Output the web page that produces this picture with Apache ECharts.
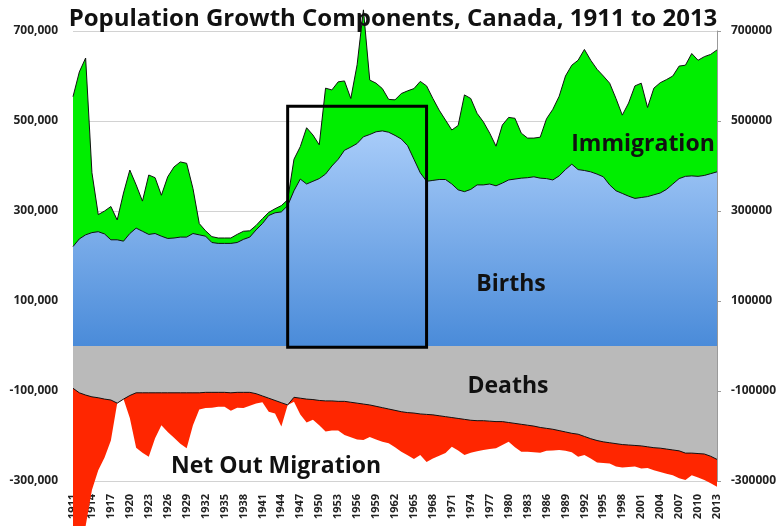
<!DOCTYPE html>
<html>
<head>
<meta charset="utf-8">
<title>Population Growth Components, Canada, 1911 to 2013</title>
<script src="https://cdn.jsdelivr.net/npm/echarts@6.0.0/dist/echarts.min.js"></script>
<style>
  html, body { margin: 0; padding: 0; background: #fff; }
  #chart { width: 779px; height: 526px; }
</style>
</head>
<body>
<div id="chart"></div>
<script>
// all values in thousands of persons
var years = [];
for (var y = 1911; y <= 2013; y++) years.push(String(y));

// top of the blue area
var births = [
  221, 238, 247, 252, 254, 249, 236, 236, 233, 250,
  262, 255, 248, 250, 244, 239, 240, 242, 242, 250,
  247, 244, 230, 228, 228, 228, 230, 237, 242, 258,
  272, 290, 296, 298, 312, 345, 371, 360, 366, 372,
  382, 400, 415, 435, 442, 450, 465, 470, 476, 478,
  475, 468, 460, 445, 415, 385, 366, 368, 370, 370,
  360, 347, 343, 348, 358, 358, 360, 356, 362, 369,
  371, 373, 374, 376, 373, 372, 369, 378, 392, 404,
  392, 390, 387, 382, 376, 358, 345, 339, 333, 328,
  330, 332, 336, 340, 348, 360, 372, 377, 378, 377,
  379, 383, 387
];
// top of the green area (births + immigration)
var birthsPlusImmigration = [
  554, 609, 640, 385, 292, 300, 310, 280, 340, 391,
  358, 322, 380, 374, 335, 376, 398, 409, 406, 350,
  272, 256, 243, 240, 240, 240, 248, 255, 256, 268,
  283, 297, 305, 312, 325, 415, 443, 485, 469, 447,
  573, 569, 587, 589, 550, 625, 747, 591, 584, 572,
  548, 547, 561, 567, 572, 588, 578, 550, 524, 502,
  480, 490, 558, 550, 517, 498, 473, 444, 491, 508,
  506, 473, 462, 462, 464, 505, 526, 555, 600, 624,
  635, 659, 635, 615, 600, 584, 550, 513, 540, 578,
  584, 530, 573, 585, 592, 600, 622, 624, 650, 635,
  643, 648, 658
];
// bottom of the grey area
var deaths = [
  -94, -104, -109, -113, -115, -118, -120, -127, -118, -110,
  -104, -104, -104, -104, -104, -104, -104, -104, -104, -104,
  -104, -103, -103, -103, -103, -104, -103, -103, -103, -106,
  -111, -116, -121, -126, -131, -114, -116, -118, -119, -121,
  -122, -122, -123, -123, -125, -127, -129, -131, -134, -137,
  -140, -143, -146, -148, -149, -151, -152, -153, -155, -157,
  -159, -161, -163, -165, -166, -166, -167, -168, -168, -170,
  -172, -174, -176, -178, -181, -183, -185, -188, -191, -194,
  -196, -201, -206, -210, -213, -215, -217, -219, -220, -221,
  -222, -224, -226, -227, -229, -231, -233, -238, -238, -239,
  -240, -245, -252
];
// bottom of the red area (deaths + net out migration)
var deathsPlusOutMigration = [
  -440, -420, -400, -320, -276, -248, -210, -127, -118, -160,
  -226, -237, -246, -205, -176, -191, -204, -217, -227, -176,
  -141, -138, -137, -135, -135, -144, -137, -138, -133, -128,
  -125, -146, -150, -179, -131, -124, -152, -170, -164, -176,
  -190, -188, -188, -198, -203, -208, -209, -202, -208, -213,
  -216, -225, -235, -243, -251, -242, -258, -250, -244, -238,
  -224, -232, -242, -237, -234, -231, -229, -227, -220, -213,
  -225, -235, -235, -236, -237, -233, -232, -231, -233, -236,
  -246, -242, -250, -259, -260, -261, -268, -270, -269, -268,
  -272, -271, -276, -280, -284, -287, -294, -298, -287, -292,
  -298, -305, -313
];

var labelTicks = [-300, -100, 100, 300, 500, 700];
var FONT = '"Open Sans", sans-serif';

var chart = echarts.init(document.getElementById('chart'));
chart.setOption({
  animation: false,
  backgroundColor: '#fff',
  grid: { left: 73, right: 62, top: 31, bottom: 45, containLabel: false, outerBoundsMode: 'none' },
  xAxis: {
    type: 'category',
    data: years,
    boundaryGap: false,
    axisLine: { show: false },
    axisTick: { show: false },
    axisLabel: {
      interval: 2,
      rotate: 90,
      margin: 13,
      fontFamily: FONT,
      fontSize: 11,
      fontWeight: 'bold',
      color: '#222'
    },
    splitLine: { show: false }
  },
  yAxis: [
    {
      type: 'value',
      position: 'left',
      min: -300,
      max: 700,
      interval: 100,
      axisLine: { show: false },
      axisTick: { show: false },
      axisLabel: {
        customValues: labelTicks,
        margin: 15,
        fontFamily: FONT,
        fontSize: 12,
        fontWeight: 'bold',
        color: '#222',
        formatter: function (v) { return (v * 1000).toLocaleString('en-US'); }
      },
      // grid lines only at the labelled values
      splitLine: { show: true, lineStyle: { color: ['#d2d2d2', 'rgba(0,0,0,0)'], width: 1 } }
    },
    {
      type: 'value',
      position: 'right',
      min: -300,
      max: 700,
      interval: 100,
      axisLine: { show: true, lineStyle: { color: '#9a9a9a' } },
      axisTick: { show: true, customValues: labelTicks, length: 4, lineStyle: { color: '#9a9a9a' } },
      axisLabel: {
        customValues: labelTicks,
        margin: 14,
        fontFamily: FONT,
        fontSize: 12,
        fontWeight: 'bold',
        color: '#222',
        formatter: function (v) { return String(v * 1000); }
      },
      splitLine: { show: false }
    }
  ],
  series: [
    {
      name: 'Immigration',
      type: 'line',
      data: birthsPlusImmigration,
      symbol: 'none',
      clip: false,
      lineStyle: { color: '#111', width: 1 },
      areaStyle: { color: '#00ee00', opacity: 1 }
    },
    {
      name: 'Births',
      type: 'line',
      data: births,
      symbol: 'none',
      clip: false,
      lineStyle: { color: '#111', width: 1 },
      areaStyle: {
        opacity: 1,
        color: new echarts.graphic.LinearGradient(0, 0, 0, 1, [
          { offset: 0, color: '#a8ccf9' },
          { offset: 1, color: '#4a8bd9' }
        ])
      }
    },
    {
      name: 'Net Out Migration',
      type: 'line',
      data: deathsPlusOutMigration,
      symbol: 'none',
      clip: false,
      lineStyle: { width: 0, opacity: 0 },
      areaStyle: { color: '#ff2600', opacity: 1 }
    },
    {
      name: 'Deaths',
      type: 'line',
      data: deaths,
      symbol: 'none',
      clip: false,
      z: 3,
      lineStyle: { color: '#111', width: 1 },
      areaStyle: { color: '#bababa', opacity: 1 },
      markArea: {
        silent: true,
        z: 20,
        itemStyle: { color: 'rgba(0,0,0,0)', borderColor: '#000', borderWidth: 3 },
        data: [[{ xAxis: '1945', yAxis: 533 }, { xAxis: '1967', yAxis: -3 }]]
      }
    }
  ],
  graphic: [
    { type: 'text', x: 393, y: 19, z: 100, style: { text: 'Population Growth Components, Canada, 1911 to 2013', font: 'bold 24px ' + FONT, fill: '#111', align: 'center', verticalAlign: 'middle' } },
    { type: 'text', x: 643, y: 144, z: 100, style: { text: 'Immigration', font: 'bold 23px ' + FONT, fill: '#111', align: 'center', verticalAlign: 'middle' } },
    { type: 'text', x: 511, y: 284, z: 100, style: { text: 'Births', font: 'bold 23px ' + FONT, fill: '#111', align: 'center', verticalAlign: 'middle' } },
    { type: 'text', x: 508, y: 386, z: 100, style: { text: 'Deaths', font: 'bold 23px ' + FONT, fill: '#111', align: 'center', verticalAlign: 'middle' } },
    { type: 'text', x: 276, y: 466, z: 100, style: { text: 'Net Out Migration', font: 'bold 23px ' + FONT, fill: '#111', align: 'center', verticalAlign: 'middle' } }
  ]
});
</script>
</body>
</html>
